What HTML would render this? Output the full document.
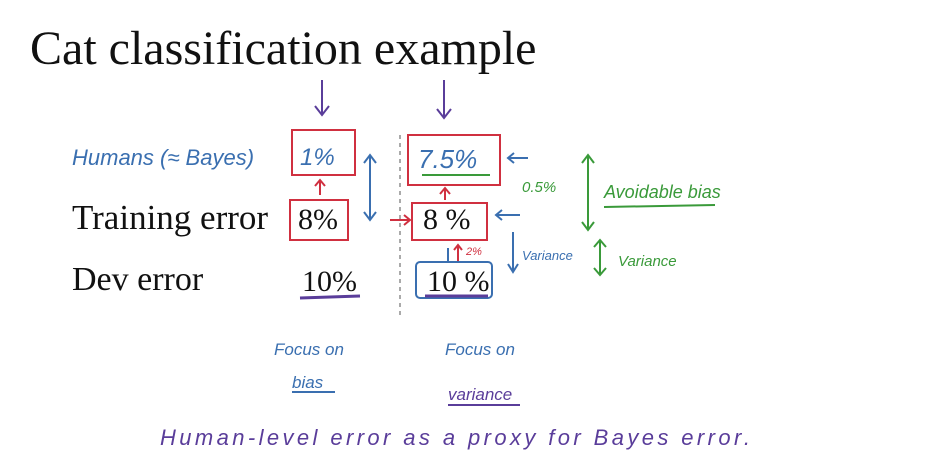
<!DOCTYPE html>
<html><head><meta charset="utf-8"><style>
html,body{margin:0;padding:0;background:#fff;width:927px;height:474px;overflow:hidden}
svg{display:block}
.s{font-family:"Liberation Serif",serif;fill:#111}
.h{font-family:"Liberation Sans",sans-serif;font-style:italic}
</style></head><body>
<svg width="927" height="474" viewBox="0 0 927 474">
<text class="s" x="30" y="64" font-size="48">Cat classification example</text>
<text class="s" x="72" y="229" font-size="35">Training error</text>
<text class="s" x="72" y="290" font-size="34">Dev error</text>
<text class="s" x="298" y="229" font-size="30">8%</text>
<text class="s" x="302" y="291" font-size="30">10%</text>
<text class="s" x="423" y="229" font-size="30">8 %</text>
<text class="s" x="427" y="291" font-size="30">10 %</text>
<g fill="none" stroke-width="2">
<path d="M322 80 L322 115 M315 106 L322 115 L329 106 M444 80 L444 118 M437 109 L444 118 L451 109" stroke="#5a3d9a"/>
<rect x="292" y="130" width="63" height="45" stroke="#d03040"/>
<rect x="290" y="200" width="58" height="40" stroke="#d03040"/>
<rect x="408" y="135" width="92" height="50" stroke="#d03040"/>
<rect x="412" y="203" width="75" height="37" stroke="#d03040"/>
<path d="M320 195 L320 180 M315 186 L320 180 L325 186 M445 200 L445 188 M440 194 L445 188 L450 194 M458 262 L458 245 M454 250 L458 245 L462 250 M390 220 L410 220 M404 215 L410 220 L404 225" stroke="#d03040"/>
<rect x="416" y="262" width="76" height="36" rx="4" stroke="#3a6fb0"/>
<path d="M370 155 L370 220 M364 163 L370 155 L376 163 M364 212 L370 220 L376 212" stroke="#3a6fb0"/>
<path d="M528 158 L508 158 M514 153 L508 158 L514 163 M520 215 L496 215 M502 210 L496 215 L502 220 M513 232 L513 272 M508 264 L513 272 L518 264 M448 248 L448 262" stroke="#3a6fb0"/>
<path d="M425 296 L488 296" stroke="#5a3d9a" stroke-width="3"/>
<path d="M300 298 L360 296" stroke="#5a3d9a" stroke-width="3"/>
<path d="M422 175 L490 175" stroke="#3a9a3a"/>
<path d="M588 155 L588 230 M582 163 L588 155 L594 163 M582 222 L588 230 L594 222 M600 240 L600 275 M594 247 L600 240 L606 247 M594 268 L600 275 L606 268 M604 207 L715 205" stroke="#3a9a3a"/>
<path d="M400 135 L400 315" stroke="#555" stroke-width="1" stroke-dasharray="4 4"/>
<path d="M292 392 L335 392" stroke="#3a6fb0"/>
<path d="M448 405 L520 405" stroke="#5a3d9a"/>
</g>
<text class="h" x="72" y="165" font-size="22" fill="#3a6fb0">Humans (≈ Bayes)</text>
<text class="h" x="300" y="165" font-size="24" fill="#3a6fb0">1%</text>
<text class="h" x="418" y="168" font-size="26" fill="#3a6fb0">7.5%</text>
<text class="h" x="466" y="255" font-size="11" fill="#d03040">2%</text>
<text class="h" x="522" y="260" font-size="13" fill="#3a6fb0">Variance</text>
<text class="h" x="522" y="192" font-size="15" fill="#3a9a3a">0.5%</text>
<text class="h" x="604" y="198" font-size="18" fill="#3a9a3a">Avoidable bias</text>
<text class="h" x="618" y="266" font-size="15" fill="#3a9a3a">Variance</text>
<text class="h" x="274" y="355" font-size="17" fill="#3a6fb0">Focus on</text>
<text class="h" x="292" y="388" font-size="17" fill="#3a6fb0">bias</text>
<text class="h" x="445" y="355" font-size="17" fill="#3a6fb0">Focus on</text>
<text class="h" x="448" y="400" font-size="17" fill="#5a3d9a">variance</text>
<text class="h" x="160" y="445" font-size="22" fill="#5a3d9a" textLength="590" lengthAdjust="spacing">Human-level error   as   a   proxy   for   Bayes   error.</text>
</svg>
</body></html>
